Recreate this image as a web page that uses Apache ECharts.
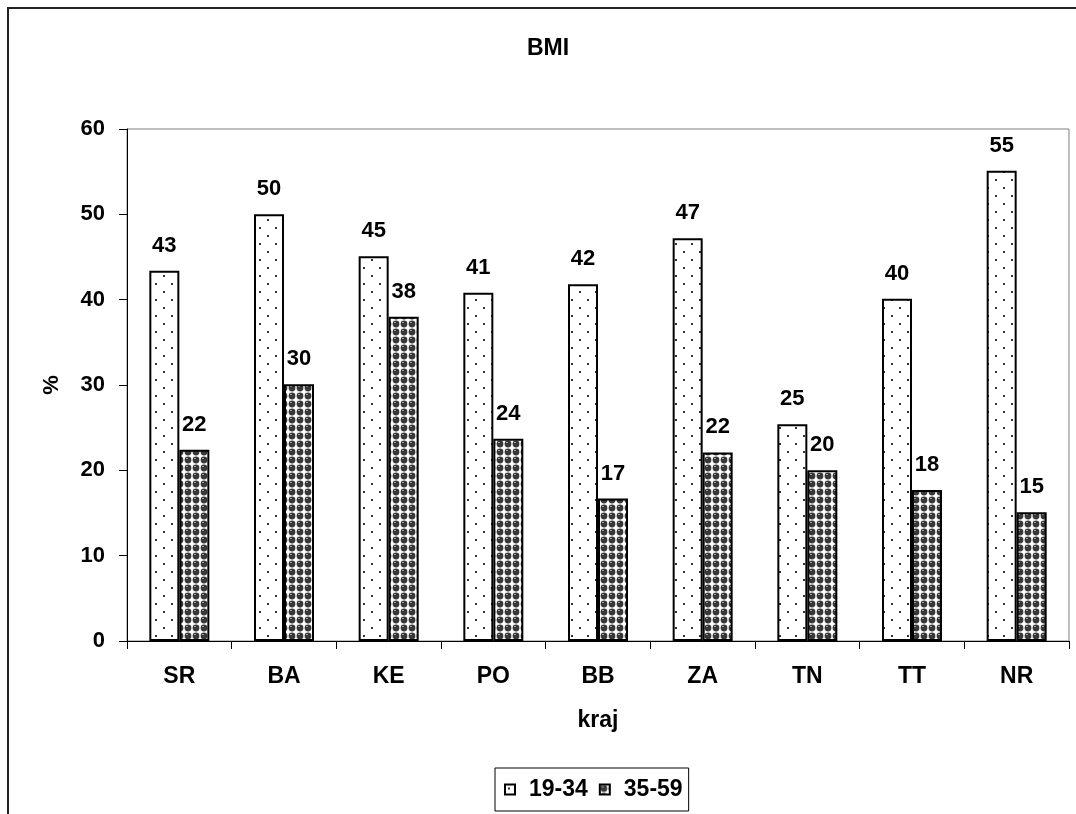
<!DOCTYPE html>
<html>
<head>
<meta charset="utf-8">
<script src="https://cdn.jsdelivr.net/npm/echarts@6/dist/echarts.min.js"></script>
<style>
html,body{margin:0;padding:0;background:#fff;}
#chart{width:1076px;height:814px;}
</style>
</head>
<body>
<div id="chart"></div>
<script>
const categories = ['SR', 'BA', 'KE', 'PO', 'BB', 'ZA', 'TN', 'TT', 'NR'];
const seriesNames = ['19-34', '35-59'];
const values1934 = [43.4, 50.0, 45.1, 40.8, 41.8, 47.2, 25.4, 40.1, 55.1];
const values3559 = [22.4, 30.1, 38.0, 23.7, 16.7, 22.1, 20.0, 17.7, 15.1];
const yTicks = [0, 10, 20, 30, 40, 50, 60];

const FONT = "'Liberation Sans', Arial, sans-serif";

function dotPattern() {
  const c = document.createElement('canvas');
  c.width = 16; c.height = 16;
  const g = c.getContext('2d');
  g.fillStyle = '#ffffff';
  g.fillRect(0, 0, 16, 16);
  g.fillStyle = '#333333';
  g.fillRect(3, 3, 2, 2);
  g.fillRect(11, 11, 2, 2);
  return c;
}
function ballPattern() {
  const c = document.createElement('canvas');
  c.width = 8; c.height = 8;
  const g = c.getContext('2d');
  g.fillStyle = '#ffffff';
  g.fillRect(0, 0, 8, 8);
  g.fillStyle = '#383838';
  g.beginPath();
  g.arc(4, 4, 3.4, 0, Math.PI * 2);
  g.fill();
  g.fillStyle = '#9a9a9a';
  g.fillRect(2, 2, 2, 1);
  return c;
}

const chart = echarts.init(document.getElementById('chart'), null, {renderer: 'canvas'});
const labelStyle = {
  show: true,
  position: 'top',
  distance: 14,
  color: '#000',
  fontFamily: FONT,
  fontWeight: 'bold',
  fontSize: 22,
  formatter: p => Math.round(p.value)
};
const option = {
  backgroundColor: '#ffffff',
  animation: false,
  graphic: [{
    type: 'rect',
    shape: {x: 8, y: 8, width: 1100, height: 900},
    style: {fill: 'none', stroke: '#222', lineWidth: 2},
    silent: true,
    z: -10
  }],
  title: {
    text: 'BMI',
    left: 548,
    textAlign: 'center',
    top: 37,
    padding: 0,
    textStyle: {fontFamily: FONT, fontWeight: 'bold', fontSize: 23, color: '#000'}
  },
  legend: {
    data: seriesNames,
    left: 495,
    top: 768,
    orient: 'horizontal',
    padding: [10, 6, 10, 9],
    itemGap: 11,
    itemWidth: 10,
    itemHeight: 10,
    borderColor: '#000',
    borderWidth: 1,
    icon: 'rect',
    textStyle: {fontFamily: FONT, fontWeight: 'bold', fontSize: 23, color: '#000', padding: [0, 0, 0, 9]}
  },
  grid: {
    left: 127,
    right: 7,
    top: 129,
    bottom: 173,
    show: true,
    borderColor: '#808080',
    borderWidth: 1,
    containLabel: false
  },
  xAxis: {
    type: 'category',
    data: categories,
    name: 'kraj',
    nameLocation: 'middle',
    nameGap: 68,
    nameTextStyle: {fontFamily: FONT, fontWeight: 'bold', fontSize: 23, color: '#000'},
    axisLine: {lineStyle: {color: '#000', width: 1}},
    axisTick: {show: true, length: 8, lineStyle: {color: '#000'}},
    axisLabel: {fontFamily: FONT, fontWeight: 'bold', fontSize: 23, color: '#000', margin: 24}
  },
  yAxis: {
    type: 'value',
    min: yTicks[0],
    max: yTicks[yTicks.length - 1],
    interval: 10,
    name: '%',
    nameLocation: 'middle',
    nameRotate: 90,
    nameGap: 64,
    nameTextStyle: {fontFamily: FONT, fontWeight: 'bold', fontSize: 22, color: '#000'},
    axisLine: {show: true, lineStyle: {color: '#000', width: 1}},
    axisTick: {show: true, length: 8, lineStyle: {color: '#000'}},
    splitLine: {show: false},
    axisLabel: {fontFamily: FONT, fontWeight: 'bold', fontSize: 22, color: '#000', margin: 22}
  },
  series: [
    {
      name: seriesNames[0],
      type: 'bar',
      data: values1934,
      barWidth: 30,
      barGap: '0%',
      itemStyle: {color: {image: dotPattern(), repeat: 'repeat'}, borderColor: '#000', borderWidth: 2},
      label: labelStyle
    },
    {
      name: seriesNames[1],
      type: 'bar',
      data: values3559,
      barWidth: 30,
      barGap: '0%',
      itemStyle: {color: {image: ballPattern(), repeat: 'repeat'}, borderColor: '#000', borderWidth: 2},
      label: labelStyle
    }
  ]
};
chart.setOption(option);
</script>
</body>
</html>
